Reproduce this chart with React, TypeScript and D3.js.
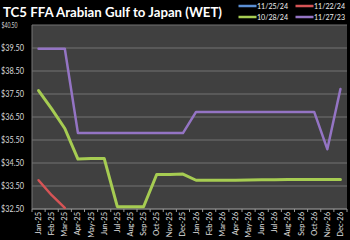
import React from "react";
import * as d3 from "d3";

const categories = ["Jan-25","Feb-25","Mar-25","Apr-25","May-25","Jun-25","Jul-25","Aug-25","Sep-25","Oct-25","Nov-25","Dec-25","Jan-26","Feb-26","Mar-26","Apr-26","May-26","Jun-26","Jul-26","Aug-26","Sep-26","Oct-26","Nov-26","Dec-26"];
const series_112524: (number | null)[] = [];
const series_112224: (number | null)[] = [33.75, 33.1, 32.55];
const series_102824: (number | null)[] = [37.65, 36.85, 36.0, 34.67, 34.7, 34.7, 32.6, 32.6, 32.6, 34.0, 34.0, 34.02, 33.75, 33.75, 33.75, 33.75, 33.76, 33.77, 33.77, 33.78, 33.78, 33.78, 33.78, 33.78];
const series_112723: (number | null)[] = [39.47, 39.47, 39.47, 35.8, 35.8, 35.8, 35.8, 35.8, 35.8, 35.8, 35.8, 35.8, 36.72, 36.72, 36.72, 36.72, 36.72, 36.72, 36.72, 36.72, 36.72, 36.72, 35.1, 37.72];
const yTicks = [32.5, 33.5, 34.5, 35.5, 36.5, 37.5, 38.5, 39.5, 40.5];
const legendNames = ["11/25/24", "11/22/24", "10/28/24", "11/27/23"];

const colors = ["#5b8fd4", "#d65456", "#a6cc52", "#9474c4"];
const allSeries = [series_112524, series_112224, series_102824, series_112723];

export default function App() {
  const W = 350, H = 240;
  const left = 32, right = 347, top = 25, bottom = 209;
  const x = d3.scaleBand<string>().domain(categories).range([left, right]);
  const y = d3.scaleLinear().domain([32.5, 40.5]).range([bottom, top]);
  const cx = (c: string) => (x(c) as number) + x.bandwidth() / 2;
  const line = d3.line<number | null>()
    .defined((d) => d != null)
    .x((_, i) => cx(categories[i]))
    .y((d) => y(d as number));
  const font = "Lato, 'Open Sans', sans-serif";
  const legendPos = [
    { x: 238.5, y: 6 },
    { x: 295.5, y: 6 },
    { x: 238.5, y: 17 },
    { x: 295.5, y: 17 },
  ];
  return (
    <svg width={W} height={H} style={{ position: "absolute", left: 0, top: 0, background: "#000" }}>
      <rect x={0} y={0} width={W} height={H} fill="#000" />
      <rect x={left} y={top} width={right - left} height={bottom - top} fill="#404040" />
      {yTicks.map((t) => (
        <line key={t} x1={left} x2={right} y1={y(t)} y2={y(t)} stroke="#727272" strokeWidth={1} />
      ))}
      <line x1={left} x2={left} y1={top} y2={bottom} stroke="#777" strokeWidth={1} />
      <line x1={left} x2={right} y1={bottom} y2={bottom} stroke="#888" strokeWidth={1} />
      {categories.map((c) => (
        <line key={"t" + c} x1={x(c) as number} x2={x(c) as number} y1={bottom} y2={bottom + 3} stroke="#999" strokeWidth={1} />
      ))}
      <line x1={right} x2={right} y1={bottom} y2={bottom + 3} stroke="#999" strokeWidth={1} />
      {yTicks.map((t) => (
        <text key={"l" + t} x={t === 40.5 ? 1.5 : 1} y={y(t) + 3} fill="#d8d8d8" fontFamily={font} fontSize={t === 40.5 ? 7 : 8.5}
          textLength={t === 40.5 ? 16 : 23} lengthAdjust="spacingAndGlyphs">
          {"$" + t.toFixed(2)}
        </text>
      ))}
      {categories.map((c) => (
        <text key={"x" + c} transform={`translate(${cx(c) + 2.5},212) rotate(-90)`} textAnchor="end" fill="#e0e0e0"
          fontFamily={font} fontSize={7.5}>
          {c}
        </text>
      ))}
      {allSeries.map((s, i) => (
        s.length > 0 ? (
          <path key={"s" + i} d={line(s) || ""} fill="none" stroke={colors[i]} strokeWidth={i === 2 ? 3 : 2.5}
            strokeLinejoin="round" strokeLinecap="round" />
        ) : null
      ))}
      <text x={3} y={17} fill="#fff" fontFamily={font} fontWeight="bold" fontSize={14}
        textLength={219} lengthAdjust="spacingAndGlyphs">
        TC5 FFA Arabian Gulf to Japan (WET)
      </text>
      {legendNames.map((n, i) => (
        <g key={"lg" + i}>
          <line x1={legendPos[i].x} x2={legendPos[i].x + 18} y1={legendPos[i].y} y2={legendPos[i].y}
            stroke={colors[i]} strokeWidth={2.5} />
          <text x={legendPos[i].x + 18.5} y={legendPos[i].y + 3} fill="#f0f0f0" fontFamily={font} fontSize={8}
            textLength={31} lengthAdjust="spacingAndGlyphs">
            {n}
          </text>
        </g>
      ))}
    </svg>
  );
}
